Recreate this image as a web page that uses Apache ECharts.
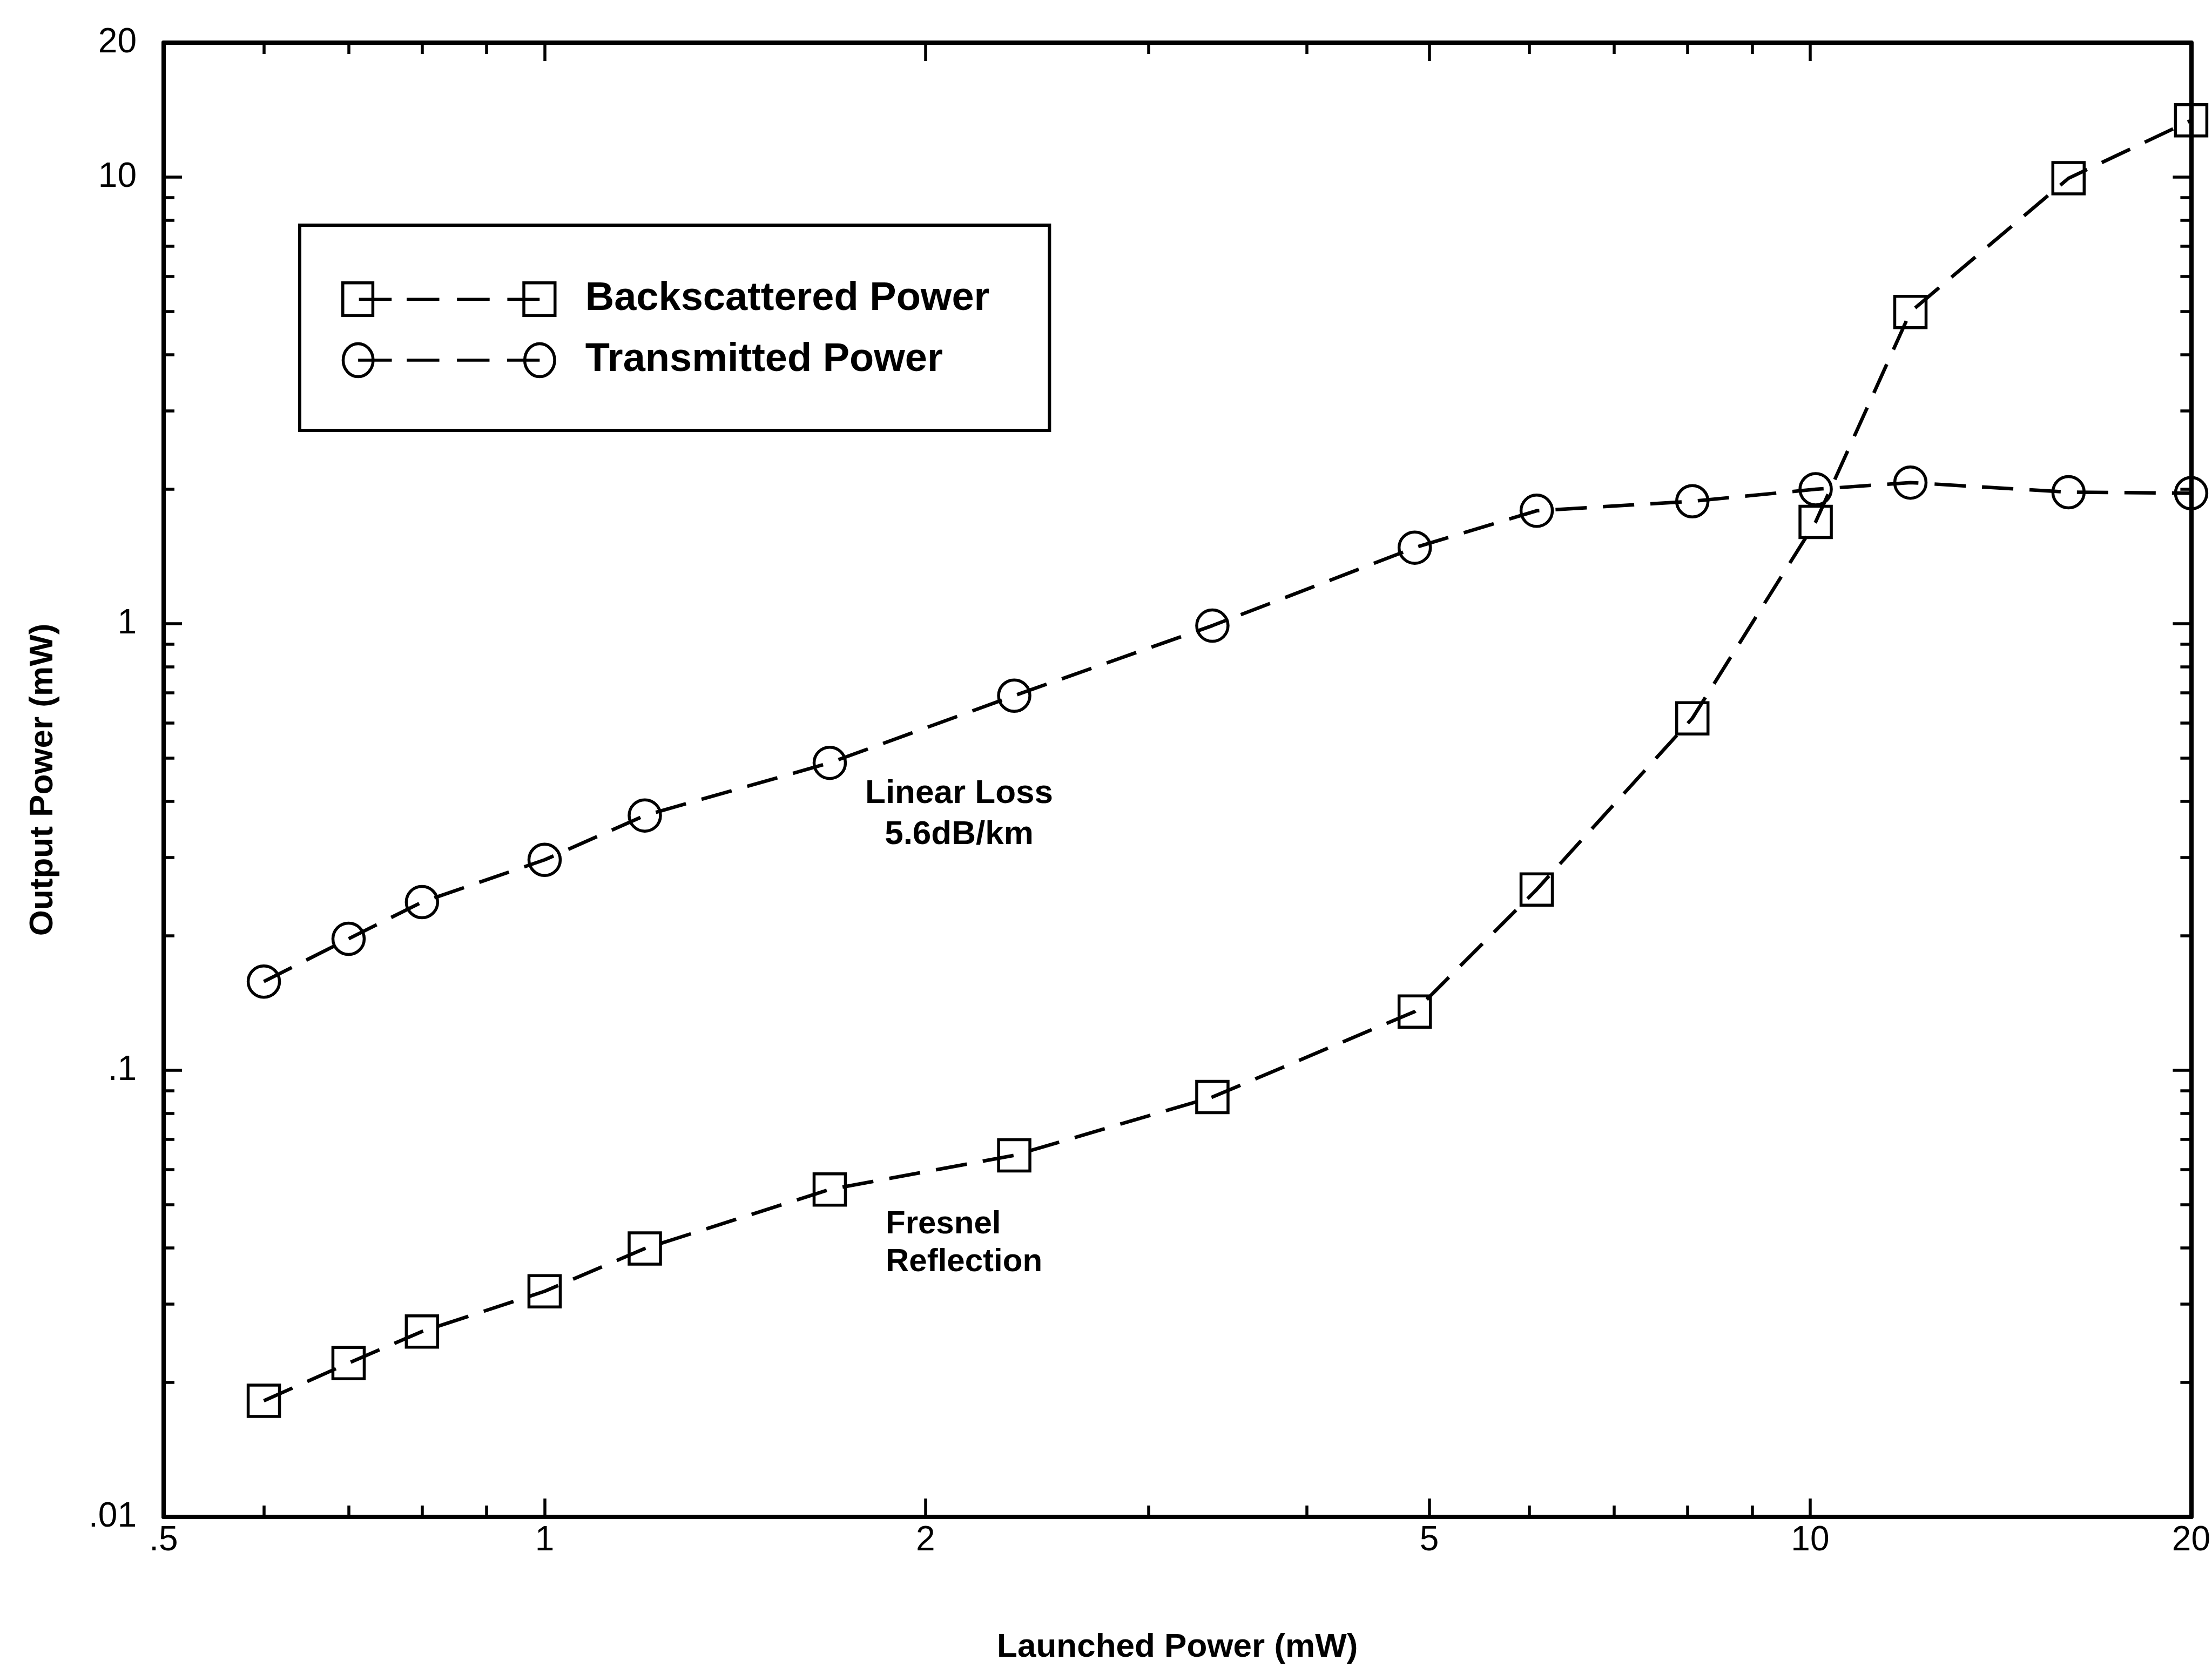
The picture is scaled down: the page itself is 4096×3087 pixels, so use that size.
<!DOCTYPE html>
<html>
<head>
<meta charset="utf-8">
<script src="https://cdn.jsdelivr.net/npm/echarts@6/dist/echarts.min.js"></script>
<style>
html, body { margin: 0; padding: 0; background: #ffffff; }
#chart { width: 4096px; height: 3087px; }
</style>
</head>
<body>
<div id="chart"></div>
<script>
// ---- data ----
const launchedPower = [0.6, 0.7, 0.8, 1.0, 1.2, 1.68, 2.35, 3.37, 4.87, 6.08, 8.07, 10.1, 12.0, 16.0, 20.0];
const backscatteredPower = [0.0182, 0.0221, 0.0260, 0.0320, 0.0399, 0.0541, 0.0645, 0.0871, 0.1354, 0.254, 0.614, 1.69, 4.99, 9.94, 13.4];
const transmittedPower = [0.158, 0.197, 0.238, 0.296, 0.372, 0.488, 0.69, 0.99, 1.48, 1.79, 1.88, 2.0, 2.07, 1.97, 1.96];
const seriesNames = ['Backscattered Power', 'Transmitted Power'];

// ---- axis ticks and labels ----
const xLabelValues = [0.5, 1, 2, 5, 10, 20];
const xLabelTexts = ['.5', '1', '2', '5', '10', '20'];
const xMajorTicks = [1, 2, 5, 10];
const xMinorTicks = [0.6, 0.7, 0.8, 0.9, 3, 4, 6, 7, 8, 9];
const yLabelValues = [0.01, 0.1, 1, 10, 20];
const yLabelTexts = ['.01', '.1', '1', '10', '20'];
const yMajorTicks = [0.1, 1, 10];
const yMinorTicks = [0.02, 0.03, 0.04, 0.05, 0.06, 0.07, 0.08, 0.09,
                     0.2, 0.3, 0.4, 0.5, 0.6, 0.7, 0.8, 0.9,
                     2, 3, 4, 5, 6, 7, 8, 9];
const xAxisName = 'Launched Power (mW)';
const yAxisName = 'Output Power (mW)';
const annotationLoss = 'Linear Loss\n5.6dB/km';
const annotationFresnel = 'Fresnel\nReflection';

const FONT = "'Liberation Sans', Arial, Helvetica, sans-serif";
const INK = '#000000';

function labelFor(values, texts) {
  return function (v) {
    for (let i = 0; i < values.length; i++) {
      if (Math.abs(values[i] - v) / values[i] < 1e-6) return texts[i];
    }
    return '';
  };
}

const axisLineStyle = { show: true, lineStyle: { color: INK, width: 8 } };
const noLine = { show: false };
const noLabel = { show: false };

function xAxisDef(position, ticks, len, withLine, withLabel) {
  return {
    type: 'log', logBase: 10, min: 0.5, max: 20, position: position,
    axisLine: withLine ? axisLineStyle : noLine,
    splitLine: { show: false },
    axisTick: { show: true, inside: true, length: len, customValues: ticks, lineStyle: { color: INK, width: 5.5 } },
    axisLabel: withLabel ? {
      show: true, customValues: xLabelValues, margin: 12,
      formatter: labelFor(xLabelValues, xLabelTexts),
      color: INK, fontFamily: FONT, fontSize: 64
    } : noLabel,
    name: withLabel ? xAxisName : '',
    nameLocation: 'middle', nameGap: 211,
    nameTextStyle: { color: INK, fontFamily: FONT, fontSize: 62, fontWeight: 'bold' }
  };
}
function yAxisDef(position, ticks, len, withLine, withLabel) {
  return {
    type: 'log', logBase: 10, min: 0.01, max: 20, position: position,
    axisLine: withLine ? axisLineStyle : noLine,
    splitLine: { show: false },
    axisTick: { show: true, inside: true, length: len, customValues: ticks, lineStyle: { color: INK, width: 5.5 } },
    axisLabel: withLabel ? {
      show: true, customValues: yLabelValues, margin: 50,
      formatter: labelFor(yLabelValues, yLabelTexts),
      color: INK, fontFamily: FONT, fontSize: 64
    } : noLabel,
    name: withLabel ? yAxisName : '',
    nameLocation: 'middle', nameGap: 192, nameRotate: 90,
    nameTextStyle: { color: INK, fontFamily: FONT, fontSize: 62, fontWeight: 'bold' }
  };
}

const squareRow = 'path://M0 0L80 0L80 87L0 87Z M43 44L130 44 M170 44L257 44 M304 44L391 44 M438 44L524 44 M482 0L565 0L565 87L482 87Z';
const circleRow = 'path://M0 44A40 44 0 1 0 80 44A40 44 0 1 0 0 44Z M40 44L130 44 M170 44L257 44 M304 44L391 44 M438 44L525 44 M485 44A40 44 0 1 0 565 44A40 44 0 1 0 485 44Z';

function lineSeries(name, symbol, values) {
  return {
    name: name, type: 'line', xAxisIndex: 0, yAxisIndex: 0,
    data: launchedPower.map((x, i) => [x, values[i]]),
    symbol: symbol, symbolSize: 58, showAllSymbol: true, clip: false,
    lineStyle: { color: INK, width: 6.5, type: [58, 30] },
    itemStyle: { color: 'transparent', borderColor: INK, borderWidth: 5.5 },
    emphasis: { disabled: true },
    animation: false
  };
}

const chart = echarts.init(document.getElementById('chart'), null, { renderer: 'canvas' });
chart.setOption({
  backgroundColor: '#ffffff',
  animation: false,
  grid: { left: 303, right: 38, top: 79, bottom: 278, containLabel: false },
  xAxis: [
    xAxisDef('bottom', xMajorTicks, 34, true, true),
    xAxisDef('bottom', xMinorTicks, 21, false, false),
    xAxisDef('top', xMajorTicks, 34, true, false),
    xAxisDef('top', xMinorTicks, 21, false, false)
  ],
  yAxis: [
    yAxisDef('left', yMajorTicks, 34, true, true),
    yAxisDef('left', yMinorTicks, 20, false, false),
    yAxisDef('right', yMajorTicks, 34, true, false),
    yAxisDef('right', yMinorTicks, 20, false, false)
  ],
  legend: {
    orient: 'vertical', left: 555, top: 417,
    padding: [100, 111, 93, 77],
    borderColor: INK, borderWidth: 6, backgroundColor: '#ffffff',
    itemWidth: 393, itemHeight: 61, itemGap: 39,
    selectedMode: false,
    itemStyle: { color: 'transparent', borderColor: INK, borderWidth: 5.5 },
    textStyle: { color: INK, fontFamily: FONT, fontSize: 74, fontWeight: 'bold', padding: [0, 0, 0, 51] },
    data: [
      { name: seriesNames[0], icon: squareRow },
      { name: seriesNames[1], icon: circleRow }
    ]
  },
  graphic: [
    { type: 'text', x: 1776, y: 1508, z: 10,
      style: { text: annotationLoss, align: 'center', verticalAlign: 'middle',
               fontFamily: FONT, fontSize: 62, fontWeight: 'bold', lineHeight: 76, fill: INK } },
    { type: 'text', x: 1640, y: 2302, z: 10,
      style: { text: annotationFresnel, align: 'left', verticalAlign: 'middle',
               fontFamily: FONT, fontSize: 60, fontWeight: 'bold', lineHeight: 70, fill: INK } }
  ],
  series: [
    lineSeries(seriesNames[0], 'rect', backscatteredPower),
    lineSeries(seriesNames[1], 'circle', transmittedPower)
  ]
});
</script>
</body>
</html>
